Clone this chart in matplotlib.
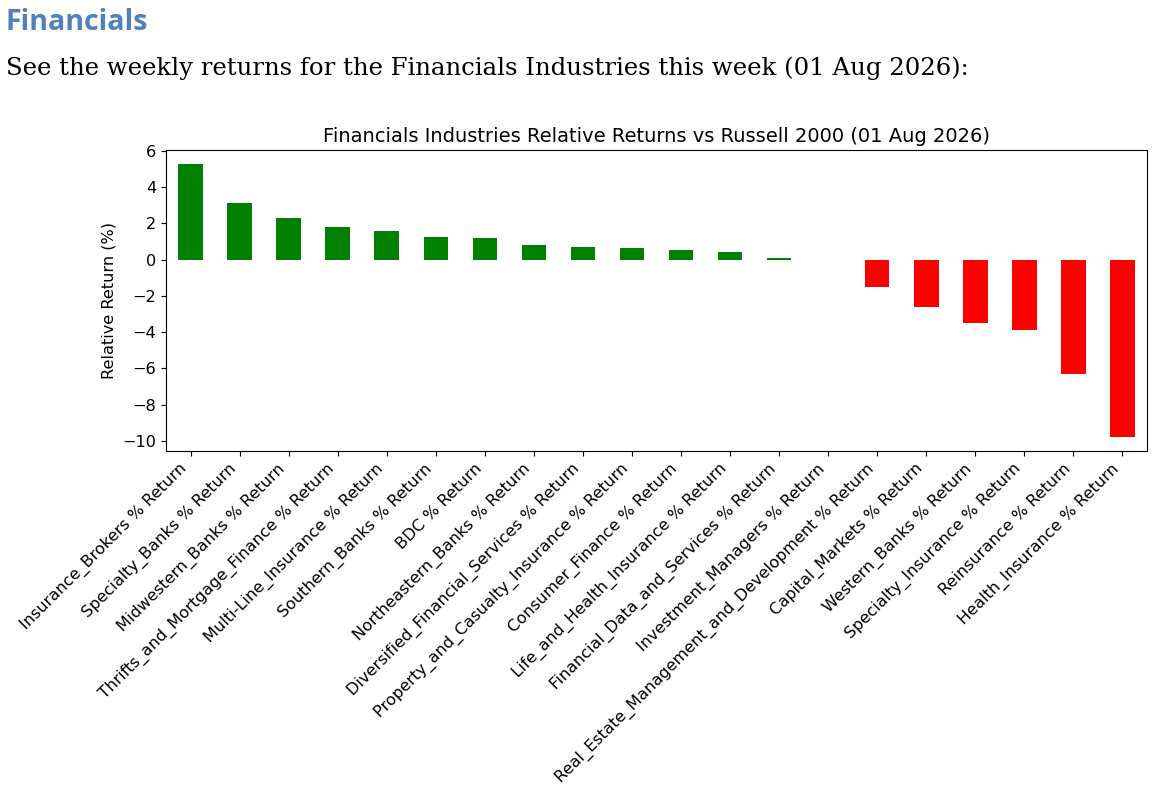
import numpy as np
import matplotlib
matplotlib.use('Agg')
from matplotlib import pyplot as plt
from matplotlib.ticker import MultipleLocator

industries = [
    'Insurance_Brokers', 'Specialty_Banks', 'Midwestern_Banks',
    'Thrifts_and_Mortgage_Finance', 'Multi-Line_Insurance', 'Southern_Banks',
    'BDC', 'Northeastern_Banks', 'Diversified_Financial_Services',
    'Property_and_Casualty_Insurance', 'Consumer_Finance',
    'Life_and_Health_Insurance', 'Financial_Data_and_Services',
    'Investment_Managers', 'Real_Estate_Management_and_Development',
    'Capital_Markets', 'Western_Banks', 'Specialty_Insurance',
    'Reinsurance', 'Health_Insurance',
]
returns = [5.30, 3.15, 2.32, 1.82, 1.60, 1.27, 1.22, 0.83, 0.72, 0.66,
           0.53, 0.40, 0.07, 0.0, -1.50, -2.63, -3.50, -3.88, -6.28, -9.80]

labels = [name + ' % Return' for name in industries]
colors = ['green' if r >= 0 else 'red' for r in returns]

fig = plt.figure(figsize=(11.61, 8.01), dpi=100)

# page header above the chart
fig.text(6 / 1161, 1 - 22 / 801, 'Financials', fontsize=20.5, fontweight='bold',
         color='#4F81BD', family='Open Sans', va='center', ha='left')
fig.text(6 / 1161, 1 - 68 / 801,
         'See the weekly returns for the Financials Industries this week (01 Aug 2026):',
         fontsize=17.6, color='black', family='DejaVu Serif', va='center', ha='left')

ax = fig.add_axes([166 / 1161, 1 - 451 / 801, (1147 - 166) / 1161, (451 - 150) / 801])
x = np.arange(len(returns))
ax.bar(x, returns, width=0.5, color=colors)
ax.set_xlim(-0.5, len(returns) - 0.5)
ax.yaxis.set_major_locator(MultipleLocator(2))
ax.set_xticks(x)
ax.set_xticklabels(labels, rotation=45, ha='right', fontsize=11.6)
ax.tick_params(axis='y', labelsize=11.6)
ax.set_ylabel('Relative Return (%)', fontsize=11.6)
ax.set_title('Financials Industries Relative Returns vs Russell 2000 (01 Aug 2026)',
             fontsize=14)

fig.savefig('out.png', dpi=100)
